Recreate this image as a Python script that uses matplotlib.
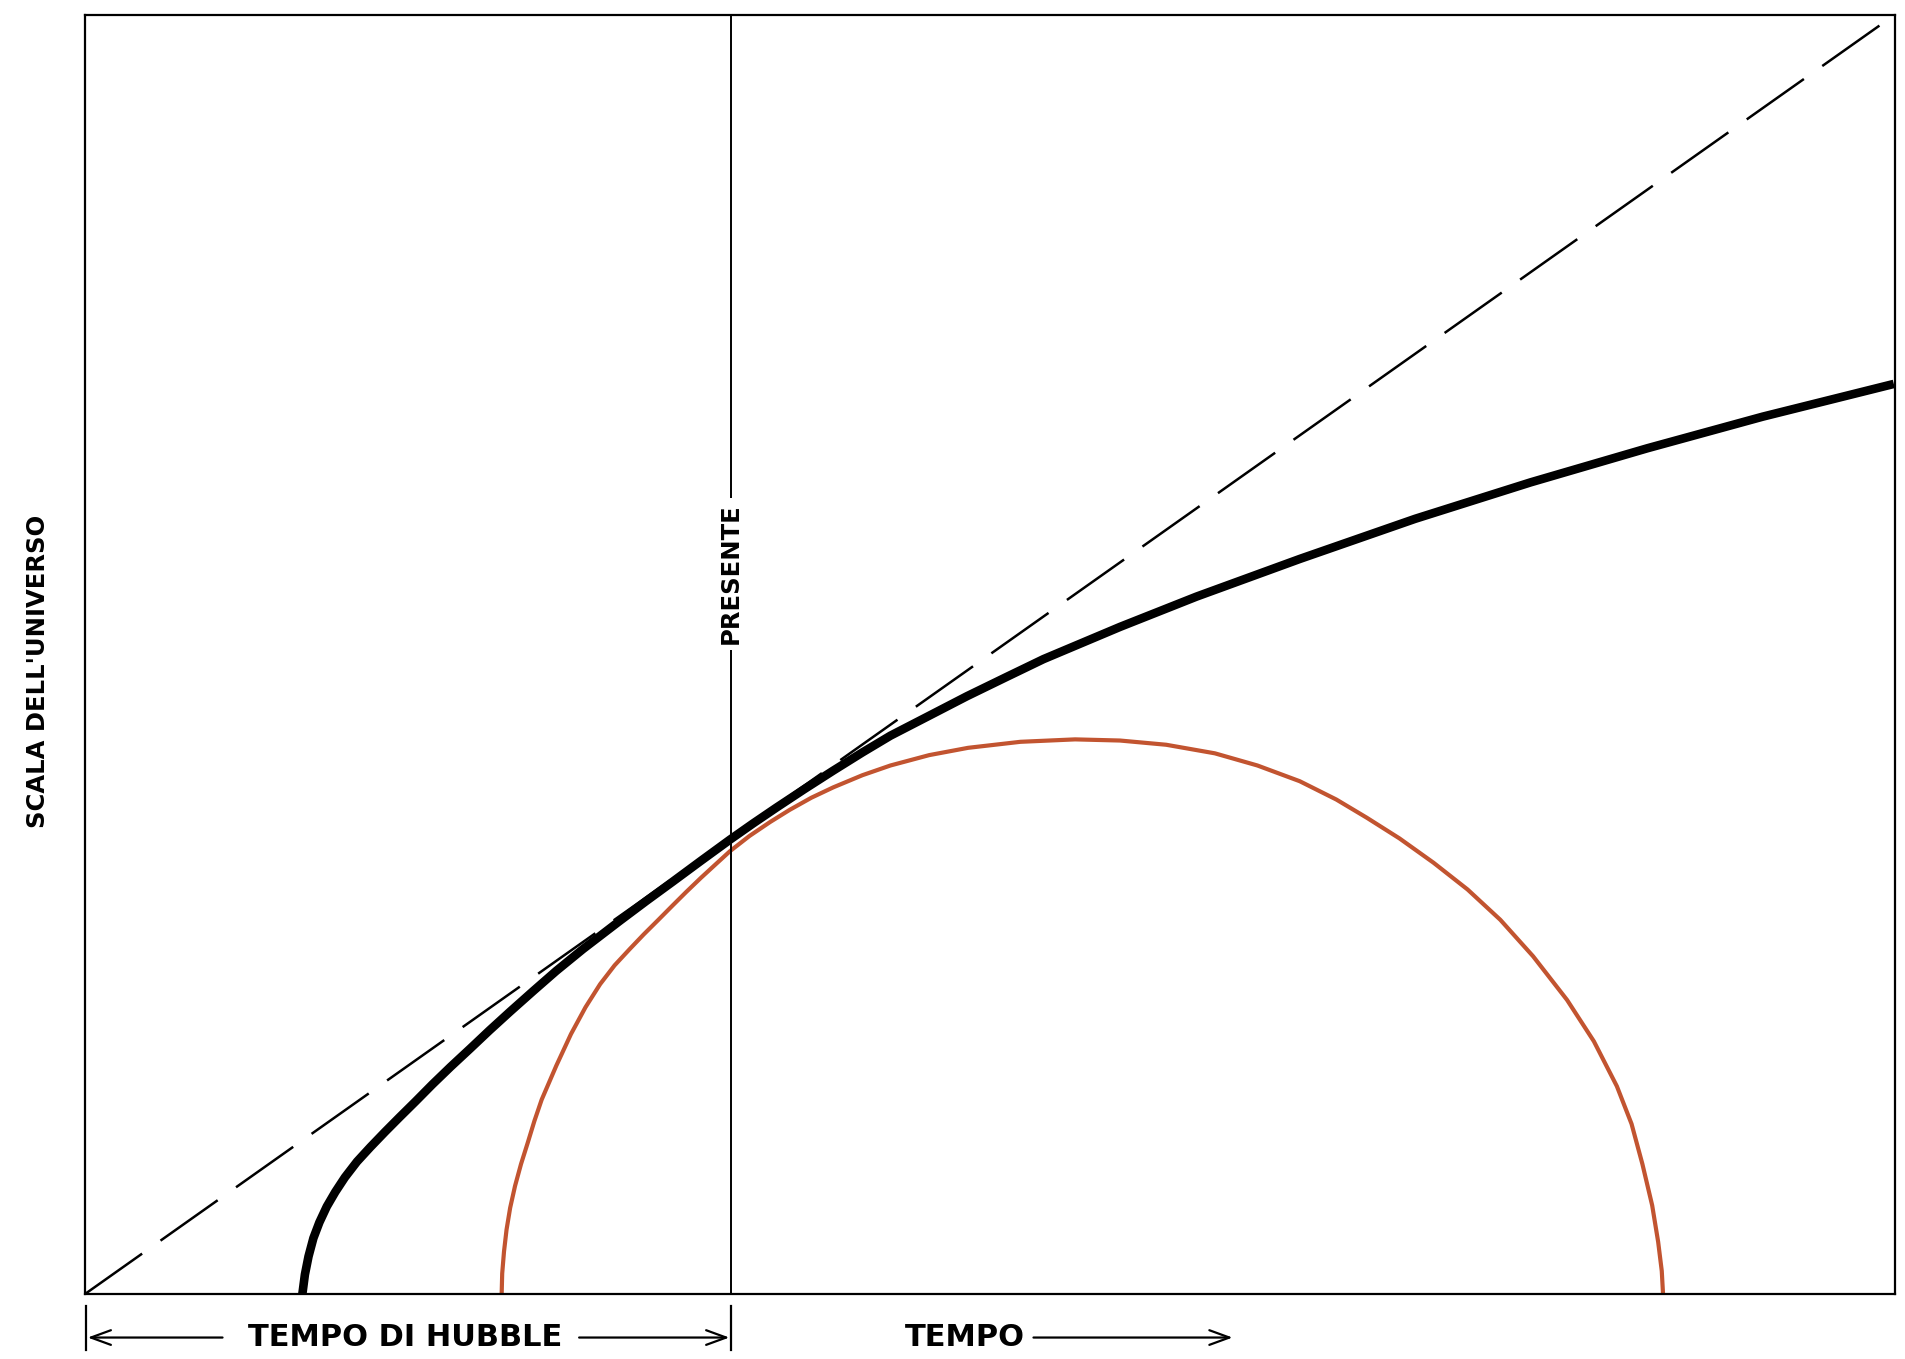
import matplotlib.pyplot as plt

# Both axes run 0-100: the dashed Hubble line goes corner to corner
hubble_t = [0, 100]
hubble_a = [0, 100]

# Black curve (open universe)
open_t = [12.01, 12.15, 12.35, 12.62, 12.95, 13.36, 13.83, 14.36, 15.03, 15.77, 16.58,
          17.38, 18.26, 19.19, 20.20, 21.28, 22.35, 23.49, 24.77, 26.04, 27.52, 29.53,
          31.01, 32.48, 34.03, 35.64, 36.91, 38.19, 39.73, 41.34, 42.95, 44.50, 46.64,
          48.72, 50.87, 52.95, 57.18, 61.41, 67.11, 73.49, 79.87, 86.31, 92.68, 99.93]
open_a = [0.0, 1.52, 2.94, 4.37, 5.60, 6.84, 7.98, 9.12, 10.35, 11.49, 12.68,
          13.82, 15.05, 16.38, 17.76, 19.18, 20.61, 22.08, 23.69, 25.26, 26.97, 29.15,
          30.72, 32.24, 33.86, 35.52, 36.78, 38.01, 39.45, 40.91, 42.33, 43.64, 45.20,
          46.72, 48.20, 49.62, 52.14, 54.51, 57.45, 60.59, 63.44, 66.10, 68.57, 71.13]

# Red curve (closed universe)
closed_t = [23.02, 23.05, 23.15, 23.29, 23.49, 23.76, 24.09, 24.46, 24.83, 25.23, 26.04,
            26.85, 27.65, 28.46, 29.26, 30.10, 30.87, 31.68, 32.48, 33.22, 34.03, 34.83,
            35.64, 36.71, 37.85, 38.93, 40.13, 41.34, 42.95, 44.50, 46.64, 48.79, 51.68,
            54.70, 57.18, 59.73, 62.42, 64.77, 67.11, 69.13, 70.81, 72.62, 74.50, 76.38,
            78.19, 80.00, 81.88, 83.36, 84.63, 85.44, 86.04, 86.58, 86.91, 87.11, 87.18]
closed_a = [0.0, 1.61, 3.32, 5.03, 6.74, 8.45, 10.16, 11.82, 13.53, 15.19, 17.85,
            20.32, 22.41, 24.22, 25.69, 26.97, 28.11, 29.25, 30.39, 31.43, 32.53, 33.57,
            34.62, 35.80, 36.89, 37.84, 38.79, 39.60, 40.55, 41.31, 42.12, 42.69, 43.16,
            43.35, 43.26, 42.93, 42.26, 41.31, 40.08, 38.65, 37.23, 35.61, 33.71, 31.62,
            29.25, 26.40, 22.98, 19.75, 16.24, 13.30, 10.16, 6.93, 4.08, 1.80, 0.0]

present_t = 35.7
y_label = "SCALA DELL'UNIVERSO"
present_label = "PRESENTE"
hubble_label = "TEMPO DI HUBBLE"
time_label = "TEMPO"

red = '#c25430'
font = 'DejaVu Sans'

fig = plt.figure(figsize=(19.05, 13.59), dpi=100)
ax = fig.add_axes([0.0446, 0.0478, 0.9502, 0.9415])
ax.set_xlim(0, 100)
ax.set_ylim(0, 100)
ax.set_xticks([])
ax.set_yticks([])
for spine in ax.spines.values():
    spine.set_linewidth(1.6)
    spine.set_color('black')

# Curves
ax.plot(hubble_t, hubble_a, color='black', lw=1.8, dashes=(28, 9))
ax.plot(closed_t, closed_a, color=red, lw=3.0, solid_joinstyle='round')
ax.plot(open_t, open_a, color='black', lw=6.2, solid_joinstyle='round', solid_capstyle='butt')

# "Presente" line with its label
ax.axvline(present_t, color='black', lw=1.4)
ax.text(present_t, 56.3, present_label, rotation=90, ha='center', va='center',
        fontsize=17.5, family=font, weight='bold',
        bbox=dict(facecolor='white', edgecolor='none', pad=4))

ax.text(-2.6, 48.7, y_label, rotation=90, ha='center', va='center',
        fontsize=17.5, family=font, weight='bold', clip_on=False)

# Bottom annotation: bracket for the Hubble time and the time arrow
for x in (0.05, present_t):
    ax.plot([x, x], [-0.9, -4.4], color='black', lw=1.6, clip_on=False)

arrow = dict(arrowstyle='->, head_length=0.6, head_width=0.22', lw=1.6, color='black',
             shrinkA=0, shrinkB=0, mutation_scale=24)
y_arr = -3.4
ax.annotate('', xy=(0.15, y_arr), xytext=(7.6, y_arr), arrowprops=arrow, annotation_clip=False)
ax.annotate('', xy=(present_t - 0.1, y_arr), xytext=(27.3, y_arr), arrowprops=arrow,
            annotation_clip=False)
ax.text(17.7, y_arr, hubble_label, ha='center', va='center', fontsize=22,
        family=font, weight='bold', clip_on=False)

ax.text(48.6, y_arr, time_label, ha='center', va='center', fontsize=22,
        family=font, weight='bold', clip_on=False)
ax.annotate('', xy=(63.4, y_arr), xytext=(52.4, y_arr), arrowprops=arrow, annotation_clip=False)

fig.savefig('out.png', dpi=100)
plt.close(fig)
